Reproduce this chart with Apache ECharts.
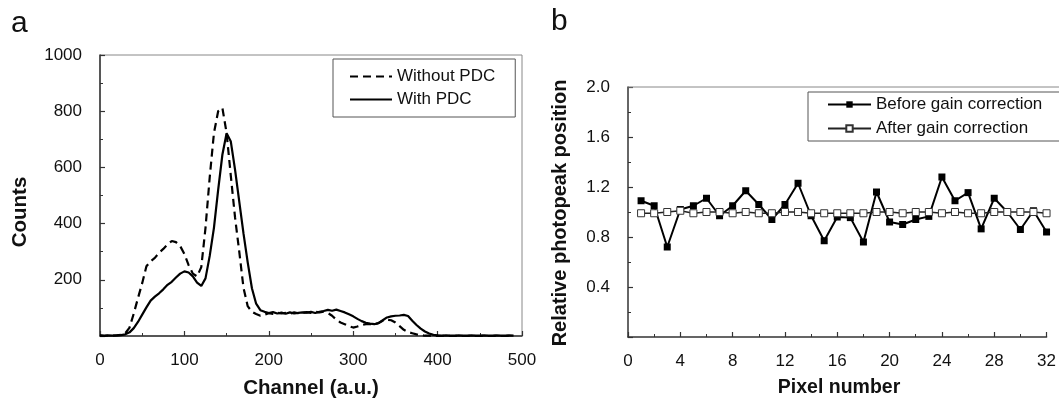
<!DOCTYPE html>
<html>
<head>
<meta charset="utf-8">
<script src="https://cdn.jsdelivr.net/npm/echarts@6/dist/echarts.min.js"></script>
<style>
html,body{margin:0;padding:0;background:#fff;}
#chart{width:1059px;height:407px;}
</style>
</head>
<body>
<div id="chart"></div>
<script>
// ---- Panel a data ----
const channels = [0,5,10,15,20,25,30,35,40,45,50,55,60,65,70,75,80,85,90,95,
  100,105,110,115,120,125,130,135,140,145,150,155,160,165,170,175,180,185,190,195,
  200,205,210,215,220,225,230,235,240,245,250,255,260,265,270,275,280,285,290,295,
  300,305,310,315,320,325,330,335,340,345,350,355,360,365,370,375,380,385,390,395,
  400,405,410,415,420,425,430,435,440,445,450,455,460,465,470,475,480,485,490];
const withoutPDC = [1,0,2,1,2,4,10,30,80,135,188,248,266,278,296,310,326,338,334,320,
  292,252,222,212,245,385,565,722,800,812,722,570,422,300,172,106,86,78,72,76,
  81,79,83,80,82,79,84,81,83,85,82,86,84,87,82,72,58,48,42,35,
  30,34,39,42,42,41,46,54,58,56,48,35,22,14,10,6,3,1,1,0,
  1,0,1,0,0,1,0,0,1,0,0,1,0,0,1,0,0,1,0];
const withPDC = [2,1,2,1,2,3,6,13,28,50,76,102,126,140,152,166,182,193,208,222,
  230,226,212,190,178,205,285,385,520,645,722,692,592,478,365,262,170,115,92,86,
  82,85,80,83,79,84,80,82,84,83,86,82,86,89,93,90,94,89,84,77,
  70,61,53,47,44,42,46,56,66,70,72,73,75,71,54,39,26,16,9,4,
  2,1,2,1,1,2,1,1,2,1,1,2,1,1,2,1,1,2,1];
const xTicksA = [0,100,200,300,400,500];
const yTicksA = [200,400,600,800,1000];

// ---- Panel b data ----
const pixels = [1,2,3,4,5,6,7,8,9,10,11,12,13,14,15,16,17,18,19,20,21,22,23,24,25,26,27,28,29,30,31,32];
const beforeGain = [1.09,1.05,0.72,1.02,1.05,1.11,0.97,1.05,1.17,1.06,0.94,1.06,1.23,0.97,0.77,0.96,
  0.955,0.76,1.16,0.92,0.90,0.94,0.965,1.28,1.09,1.155,0.865,1.11,1.0,0.86,1.01,0.84];
const afterGain = [0.99,0.99,1.0,1.01,0.99,1.0,1.0,0.99,1.0,0.99,0.99,1.0,1.0,0.99,0.99,0.99,
  0.99,0.99,1.0,1.0,0.99,1.0,1.0,0.99,1.0,0.99,0.99,1.0,1.0,1.0,1.0,0.99];

const FONT = 'Liberation Sans, Arial, sans-serif';
const AX = '#333';
const TICKFS = 17;

function zip(a, b){ return a.map((v,i)=>[v,b[i]]); }

function valueAxis(extra){
  return Object.assign({
    type:'value',
    axisLine:{show:true, onZero:false, lineStyle:{color:AX, width:1.5}},
    axisTick:{show:true, inside:true, length:5, lineStyle:{color:AX, width:1.2}},
    minorTick:{show:true, splitNumber:2, length:3, lineStyle:{color:AX, width:1}},
    splitLine:{show:false},
    minorSplitLine:{show:false}
  }, extra);
}

const chart = echarts.init(document.getElementById('chart'), null, {renderer:'canvas'});
chart.setOption({
  animation:false,
  backgroundColor:'#fff',
  grid:[
    {left:100, top:55, width:422, height:281, show:true, borderColor:'#888', borderWidth:1, backgroundColor:'transparent'},
    {left:628, top:87, width:422, height:250}
  ],
  xAxis:[
    valueAxis({gridIndex:0, min:xTicksA[0], max:xTicksA[xTicksA.length-1], interval:100,
      axisLabel:{color:'#111', fontSize:TICKFS, fontFamily:FONT, margin:16, formatter:v=>String(v)}}),
    valueAxis({gridIndex:1, min:0, max:32, interval:4,
      axisLabel:{color:'#111', fontSize:TICKFS, fontFamily:FONT, margin:16, formatter:v=>String(v)}})
  ],
  yAxis:[
    valueAxis({gridIndex:0, min:0, max:yTicksA[yTicksA.length-1], interval:200,
      axisLabel:{color:'#111', fontSize:TICKFS, fontFamily:FONT, margin:18, showMinLabel:false, formatter:v=>String(v)}}),
    valueAxis({gridIndex:1, min:0, max:2, interval:0.4,
      axisLabel:{color:'#111', fontSize:TICKFS, fontFamily:FONT, margin:18, showMinLabel:false,
        formatter:v=>v.toFixed(1)}})
  ],
  legend:[
    {data:['Without PDC','With PDC'], orient:'vertical', left:333, top:59,
     itemWidth:42, itemHeight:14, itemGap:6, padding:[9,20,9,16],
     borderColor:'#555', borderWidth:1, selectedMode:false,
     itemStyle:{color:'transparent', borderWidth:0, opacity:0},
     textStyle:{fontSize:17, fontFamily:FONT, color:'#111'}},
    {data:['Before gain correction','After gain correction'], orient:'vertical', left:808, top:92,
     itemWidth:43, itemHeight:8, itemGap:7, padding:[4,40,4,19],
     borderColor:'#555', borderWidth:1, selectedMode:false,
     textStyle:{fontSize:17, fontFamily:FONT, color:'#111'}}
  ],
  series:[
    {name:'Without PDC', type:'line', xAxisIndex:0, yAxisIndex:0, data:zip(channels, withoutPDC),
     symbol:'none', lineStyle:{color:'#000', width:2.2, type:[8,5]}, itemStyle:{color:'#000'}, z:3},
    {name:'With PDC', type:'line', xAxisIndex:0, yAxisIndex:0, data:zip(channels, withPDC),
     symbol:'none', lineStyle:{color:'#000', width:2.2}, itemStyle:{color:'#000'}, z:4},
    {name:'Before gain correction', type:'line', xAxisIndex:1, yAxisIndex:1, data:zip(pixels, beforeGain),
     symbol:'rect', symbolSize:7, lineStyle:{color:'#000', width:2}, itemStyle:{color:'#000'}, z:3},
    {name:'After gain correction', type:'line', xAxisIndex:1, yAxisIndex:1, data:zip(pixels, afterGain),
     symbol:'rect', symbolSize:7, lineStyle:{color:'#222', width:1.5},
     itemStyle:{color:'#fff', borderColor:'#333', borderWidth:1}, z:4}
  ],
  graphic:[
    {type:'line', shape:{x1:628, y1:87, x2:1059, y2:87}, style:{stroke:'#888', lineWidth:1}, z:1},
    {type:'text', left:11, top:9, style:{text:'a', fontSize:30, fontFamily:FONT, fill:'#111'}},
    {type:'text', left:551, top:7, style:{text:'b', fontSize:30, fontFamily:FONT, fill:'#111'}},
    {type:'text', x:20, y:212, rotation:Math.PI/2,
     style:{text:'Counts', fontSize:20.5, fontWeight:'bold', fontFamily:FONT, fill:'#111', align:'center', verticalAlign:'middle'}},
    {type:'text', x:311, y:388,
     style:{text:'Channel (a.u.)', fontSize:20.5, fontWeight:'bold', fontFamily:FONT, fill:'#111', align:'center', verticalAlign:'middle'}},
    {type:'text', x:560, y:213, rotation:Math.PI/2,
     style:{text:'Relative photopeak position', fontSize:20, fontWeight:'bold', fontFamily:FONT, fill:'#111', align:'center', verticalAlign:'middle'}},
    {type:'text', x:839, y:388,
     style:{text:'Pixel number', fontSize:19.5, fontWeight:'bold', fontFamily:FONT, fill:'#111', align:'center', verticalAlign:'middle'}}
  ]
});
</script>
</body>
</html>
